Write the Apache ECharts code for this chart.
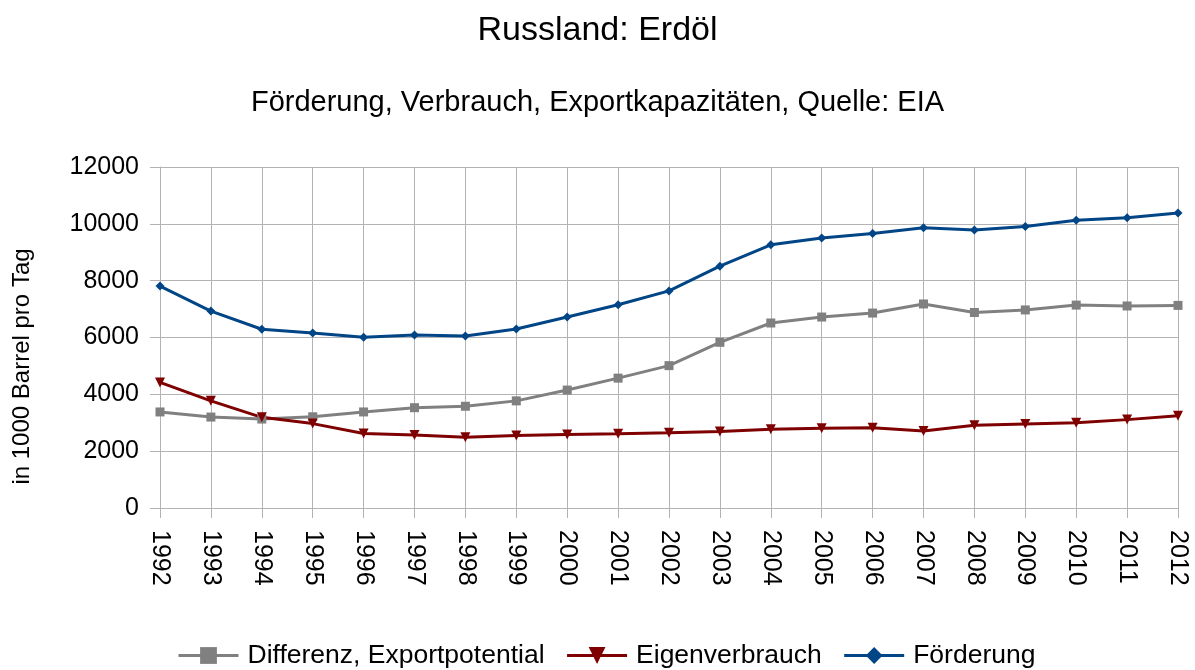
<!DOCTYPE html>
<html lang="de">
<head>
<meta charset="UTF-8">
<title>Russland: Erdöl</title>
<script src="https://cdn.jsdelivr.net/npm/echarts@6/dist/echarts.min.js"></script>
<style>
  body { margin: 0; padding: 0; background: #fff; }
  #chart { width: 1195px; height: 670px; }
</style>
</head>
<body>
<div id="chart"></div>
<script>
// Daten (1000 Barrel pro Tag)
const years = ['1992','1993','1994','1995','1996','1997','1998','1999','2000','2001','2002',
               '2003','2004','2005','2006','2007','2008','2009','2010','2011','2012'];
const differenz = [3380, 3200, 3130, 3210, 3380, 3530, 3580, 3770, 4150, 4570, 5010,
                   5830, 6510, 6720, 6860, 7180, 6880, 6970, 7140, 7110, 7130];
const eigenverbrauch = [4420, 3770, 3190, 2970, 2620, 2570, 2490, 2550, 2590, 2610, 2645,
                        2690, 2770, 2810, 2820, 2710, 2910, 2960, 3000, 3110, 3250];
const foerderung = [7810, 6930, 6290, 6160, 6010, 6090, 6050, 6300, 6720, 7150, 7640,
                    8510, 9260, 9500, 9660, 9860, 9780, 9910, 10130, 10210, 10380];

const font = 'Liberation Sans, Arial, sans-serif';
const chart = echarts.init(document.getElementById('chart'));

chart.setOption({
  animation: false,
  textStyle: { fontFamily: font, color: '#000' },
  title: [
    { text: 'Russland: Erdöl', left: 'center', top: 9,
      textStyle: { fontFamily: font, fontSize: 34, fontWeight: 'normal', color: '#000' } },
    { text: 'Förderung, Verbrauch, Exportkapazitäten, Quelle: EIA', left: 'center', top: 83,
      textStyle: { fontFamily: font, fontSize: 29, fontWeight: 'normal', color: '#000' } }
  ],
  legend: {
    bottom: 1,
    left: 177,
    padding: 0,
    itemWidth: 60,
    itemHeight: 21,
    itemGap: 21,
    lineStyle: { width: 3 },
    textStyle: { fontFamily: font, fontSize: 26.5, color: '#000', padding: [0, 0, 0, 4] },
    data: ['Differenz, Exportpotential', 'Eigenverbrauch', 'Förderung']
  },
  grid: { left: 160, right: 17, top: 167, bottom: 162, containLabel: false },
  xAxis: {
    type: 'category',
    data: years,
    boundaryGap: false,
    axisLine: { show: true, lineStyle: { color: '#b3b3b3', width: 1 } },
    axisTick: { show: true, length: 10, lineStyle: { color: '#b3b3b3' } },
    splitLine: { show: true, lineStyle: { color: '#b3b3b3', width: 1 } },
    axisLabel: { rotate: -90, fontSize: 25, color: '#000', margin: 22, fontFamily: font }
  },
  yAxis: {
    type: 'value',
    min: 0,
    max: 12000,
    interval: 2000,
    name: 'in 1000 Barrel pro Tag',
    nameLocation: 'middle',
    nameGap: 126,
    nameRotate: 90,
    nameTextStyle: { fontSize: 24, color: '#000', fontFamily: font, padding: [0, 58, 0, 0] },
    axisLine: { show: true, lineStyle: { color: '#b3b3b3', width: 1 } },
    axisTick: { show: true, length: 10, lineStyle: { color: '#b3b3b3' } },
    splitLine: { show: true, lineStyle: { color: '#b3b3b3', width: 1 } },
    axisLabel: { fontSize: 25, color: '#000', margin: 21, fontFamily: font,
                 formatter: function (v) { return String(v); } }
  },
  series: [
    {
      name: 'Differenz, Exportpotential',
      type: 'line',
      data: differenz,
      symbol: 'rect',
      symbolSize: 9,
      itemStyle: { color: '#808080' },
      lineStyle: { color: '#808080', width: 3 }
    },
    {
      name: 'Eigenverbrauch',
      type: 'line',
      data: eigenverbrauch,
      symbol: 'triangle',
      symbolRotate: 180,
      symbolSize: 10,
      itemStyle: { color: '#7f0000' },
      lineStyle: { color: '#7f0000', width: 3 }
    },
    {
      name: 'Förderung',
      type: 'line',
      data: foerderung,
      symbol: 'diamond',
      symbolSize: 9,
      itemStyle: { color: '#004586' },
      lineStyle: { color: '#004586', width: 3 }
    }
  ]
});
</script>
</body>
</html>
